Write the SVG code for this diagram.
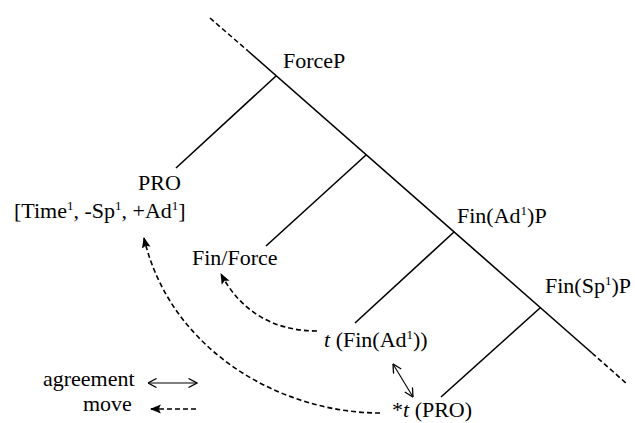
<svg xmlns="http://www.w3.org/2000/svg" width="635" height="423" viewBox="0 0 635 423">
<defs>
<style>
text{font-family:"Liberation Serif","Times New Roman",serif;font-size:22px;fill:#000}
.sup{font-size:13px}
.ln{stroke:#000;stroke-width:1.6;fill:none}
.ds{stroke:#000;stroke-width:1.6;fill:none;stroke-dasharray:5,3}
.ag{stroke:#000;stroke-width:1.1;fill:none}
</style>
<marker id="ah" viewBox="0 0 10 10" refX="9" refY="5" markerWidth="11" markerHeight="11" markerUnits="userSpaceOnUse" orient="auto-start-reverse">
<path d="M0,1 L10,5 L0,9 L2,5 z" fill="#000"/>
</marker>
<marker id="oh" viewBox="0 0 10 10" refX="9.5" refY="5" markerWidth="10" markerHeight="10" markerUnits="userSpaceOnUse" orient="auto-start-reverse">
<path d="M1,0.5 L9.5,5 L1,9.5" fill="none" stroke="#000" stroke-width="1.3"/>
</marker>
</defs>
<rect width="635" height="423" fill="#fff"/>
<g id="connectors">
<line class="ds" x1="210" y1="18" x2="248" y2="51"/>
<line class="ln" x1="248" y1="51" x2="592" y2="353"/>
<line class="ds" x1="592" y1="353" x2="627" y2="384"/>
<line class="ln" x1="276" y1="76" x2="176" y2="168"/>
<line class="ln" x1="366" y1="155" x2="266" y2="246"/>
<line class="ln" x1="454" y1="232" x2="355" y2="323"/>
<line class="ln" x1="540" y1="308" x2="441" y2="397"/>
<path class="ds" d="M317,331 C272,331 240,310 221,274" marker-end="url(#ah)"/>
<path class="ds" d="M380,413 C280,413 170,350 144,238" marker-end="url(#ah)"/>
<line class="ag" x1="393" y1="364" x2="413" y2="397" marker-start="url(#oh)" marker-end="url(#oh)"/>
</g>
<g id="ForceP"><text x="283" y="68">ForceP</text></g>
<g id="PRO"><text x="138" y="190">PRO</text>
<text x="14" y="218">[Time<tspan class="sup" dy="-8">1</tspan><tspan dy="8">, -Sp</tspan><tspan class="sup" dy="-8">1</tspan><tspan dy="8">, +Ad</tspan><tspan class="sup" dy="-8">1</tspan><tspan dy="8">]</tspan></text></g>
<g id="FinAdP"><text x="457" y="223">Fin(Ad<tspan class="sup" dy="-8">1</tspan><tspan dy="8">)P</tspan></text></g>
<g id="FinSpP"><text x="545" y="293">Fin(Sp<tspan class="sup" dy="-8">1</tspan><tspan dy="8">)P</tspan></text></g>
<g id="FinForce"><text x="192" y="265">Fin/Force</text></g>
<g id="tFinAd"><text x="324" y="347"><tspan font-style="italic">t</tspan> (Fin(Ad<tspan class="sup" dy="-8">1</tspan><tspan dy="8">))</tspan></text></g>
<g id="tPRO"><text x="392" y="417">*<tspan font-style="italic">t</tspan> (PRO)</text></g>
<g id="legend">
<text x="43" y="386">agreement</text>
<line class="ag" x1="148" y1="383" x2="197" y2="383" marker-start="url(#oh)" marker-end="url(#oh)"/>
<text x="83" y="411">move</text>
<line class="ds" x1="151" y1="409" x2="197" y2="409" stroke-width="1.3" marker-start="url(#ah)"/>
</g>
</svg>
